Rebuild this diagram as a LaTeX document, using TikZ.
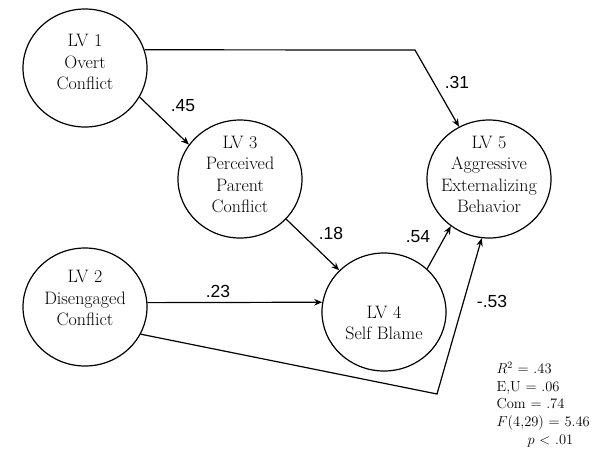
\documentclass[tikz,border=0pt]{standalone}
\usepackage{fontspec}
\newfontfamily\coeffont{Liberation Sans}
\usetikzlibrary{arrows.meta,positioning,shapes.geometric}
\tikzset{
  sem/.style={
    x=1pt, y=-1pt,
    on grid,
    >={Stealth[length=8pt,width=6.5pt]},
    line width=1.2pt
  },
  latent/.style={                  % latent variable
    ellipse, draw, line width=1.2pt,
    minimum width=124pt, minimum height=118pt,
    inner sep=0pt
  },
  lvtext/.style={align=center, inner sep=0pt, font=\fontsize{18}{21.5}\selectfont},
  effect/.style={->, line width=1.2pt},
  coef/.style={font=\coeffont\fontsize{17.5}{20}\selectfont, inner sep=0pt},
  fitstat/.style={align=left, inner sep=0pt, font=\fontsize{14.5}{17.8}\selectfont}
}
\begin{document}
\begin{tikzpicture}[sem]
\useasboundingbox (0,0) rectangle (592,451);

\node[latent] at (85,68)                          (lv1) {};
\node[latent, below right=111pt and 155pt of lv1] (lv3) {};
\node[latent, right=249pt of lv3]                 (lv5) {};
\node[latent, below=239pt of lv1]                 (lv2) {};
\node[latent, right=299pt of lv2, yshift=-5pt]    (lv4) {};

% names of the latent variables, set a little off centre
\node[lvtext, yshift=6pt]   at (lv1) (t1) {LV 1\\Overt\\Conflict};
\node[lvtext, yshift=9pt]   at (lv2) (t2) {LV 2\\Disengaged\\Conflict};
\node[lvtext, yshift=4.5pt] at (lv3) (t3) {LV 3\\Perceived\\Parent\\Conflict};
\node[lvtext, yshift=-11pt] at (lv4) (t4) {LV 4\\Self Blame};
\node[lvtext, yshift=4.5pt] at (lv5) (t5) {LV 5\\Aggressive\\Externalizing\\Behavior};

% bends of the two long paths
\coordinate (k1) at (415,50);
\coordinate (k2) at (437,394);

\draw[effect] (lv1.17) -- (k1) -- (lv5);
\draw[effect] (lv1.-28) -- (lv3.146);
\draw[effect] (lv3.-41) -- (lv4.137);
\draw[effect] (lv2.4) -- (lv4.171);
\draw[effect] (lv4.45) -- (lv5.231);
\draw[effect] (lv2.-26) -- (k2) -- (lv5.263);

% path coefficients
\node[coef] at (183,106) (b13) {.45};
\node[coef] at (457,82)  (b15) {.31};
\node[coef] at (331,233) (b34) {.18};
\node[coef] at (218,291) (b24) {.23};
\node[coef] at (418,237) (b45) {.54};
\node[coef] at (492,301) (b25) {-.53};

\node[fitstat, anchor=north west] at (496,361) (stats)
  {$R^2$ = .43\\E,U = .06\\Com = .74\\$F$(4,29) = 5.46\\\hspace*{31pt}$p$ $<$ .01};

\end{tikzpicture}
\end{document}
